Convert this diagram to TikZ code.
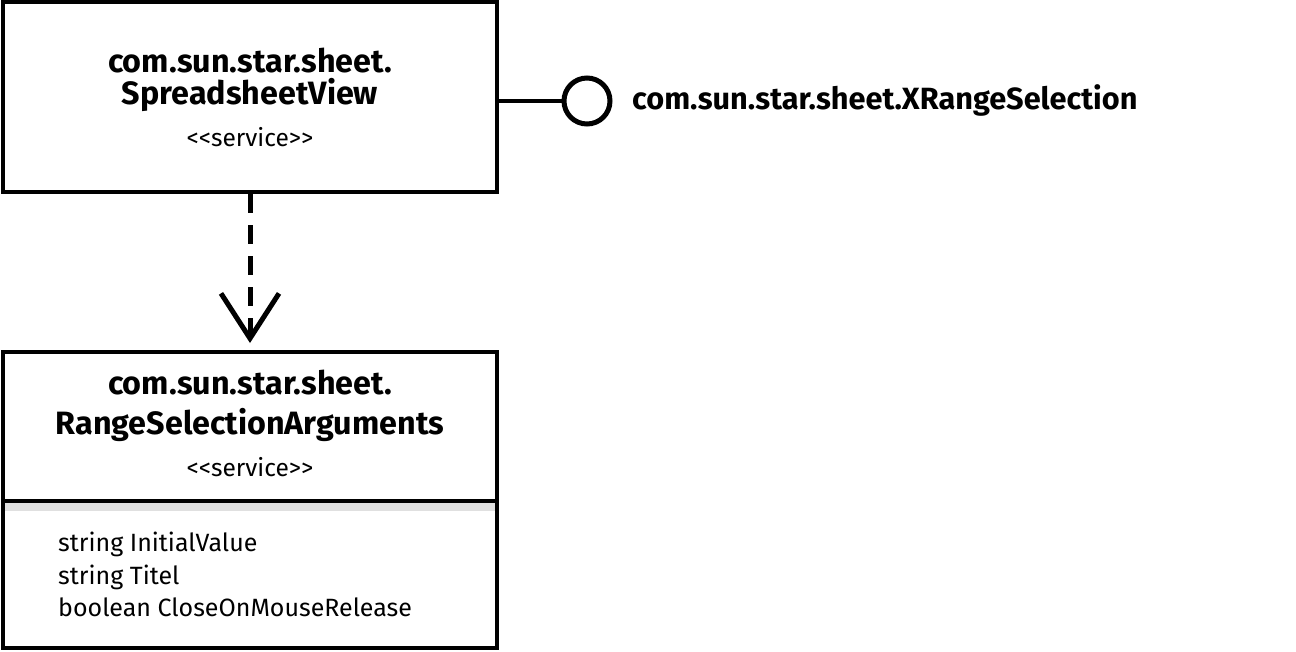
\documentclass[tikz,border=0pt]{standalone}
\usepackage{fontspec}
\setmainfont{Fira Sans}
\usetikzlibrary{arrows.meta}
\definecolor{bandgray}{HTML}{E0E0E0}
\begin{document}
\begin{tikzpicture}[x=1pt,y=-1pt,
  box/.style={draw, line width=4pt, inner sep=0pt},
  title/.style={font=\fontsize{32.3}{32}\selectfont\bfseries, anchor=base, inner sep=0pt},
  iflabel/.style={font=\fontsize{30.7}{31}\selectfont\bfseries, anchor=base west, inner sep=0pt},
  stereo/.style={font=\fontsize{24.5}{25}\selectfont, anchor=base, inner sep=0pt},
  attr/.style={font=\fontsize{25}{25}\selectfont, anchor=base west, inner sep=0pt},
  dep/.style={line width=5pt, dash pattern=on 19pt off 12pt, shorten >=7pt,
    -{Straight Barb[length=45pt, width=58pt, line width=5pt]}},
  lollipop/.style={circle, draw, line width=5pt, minimum size=46pt, inner sep=0pt},
  ]
\useasboundingbox (0,0) rectangle (1296,651);
% boxes
\node[box, minimum width=494pt, minimum height=190pt] (sv) at (250,97) {};
\node[box, minimum width=494pt, minimum height=296pt] (rs) at (250,500) {};
\fill[bandgray] (5,503) rectangle (495,511);
\coordinate (sepL) at (3,501);
\coordinate (sepR) at (497,501);
\draw[line width=4pt] (sepL) -- (sepR);
% texts top
\node[title] (svt1) at (250,72) {com.sun.star.sheet.};
\node[title] (svt2) at (250,104) {SpreadsheetView};
\node[stereo] (svs) at (250,146) {<{}<service>{}>};
% texts bottom
\node[title] (rst1) at (250,394) {com.sun.star.sheet.};
\node[title] (rst2) at (250,434) {RangeSelectionArguments};
\node[stereo] (rss) at (250,476) {<{}<service>{}>};
\node[attr] (a1) at (58,551) {string InitialValue};
\node[attr] (a2) at (58,584) {string Titel};
\node[attr] (a3) at (58,616) {boolean CloseOnMouseRelease};
% interface
\node[lollipop] (xr) at (587,101) {};
\draw[line width=4pt] (sv.east |- xr) -- (xr.west);
\node[iflabel] (xrl) at (632,109) {com.sun.star.sheet.XRangeSelection};
% dependency
\draw[dep] (sv.south) -- (rs.north);
\end{tikzpicture}
\end{document}
